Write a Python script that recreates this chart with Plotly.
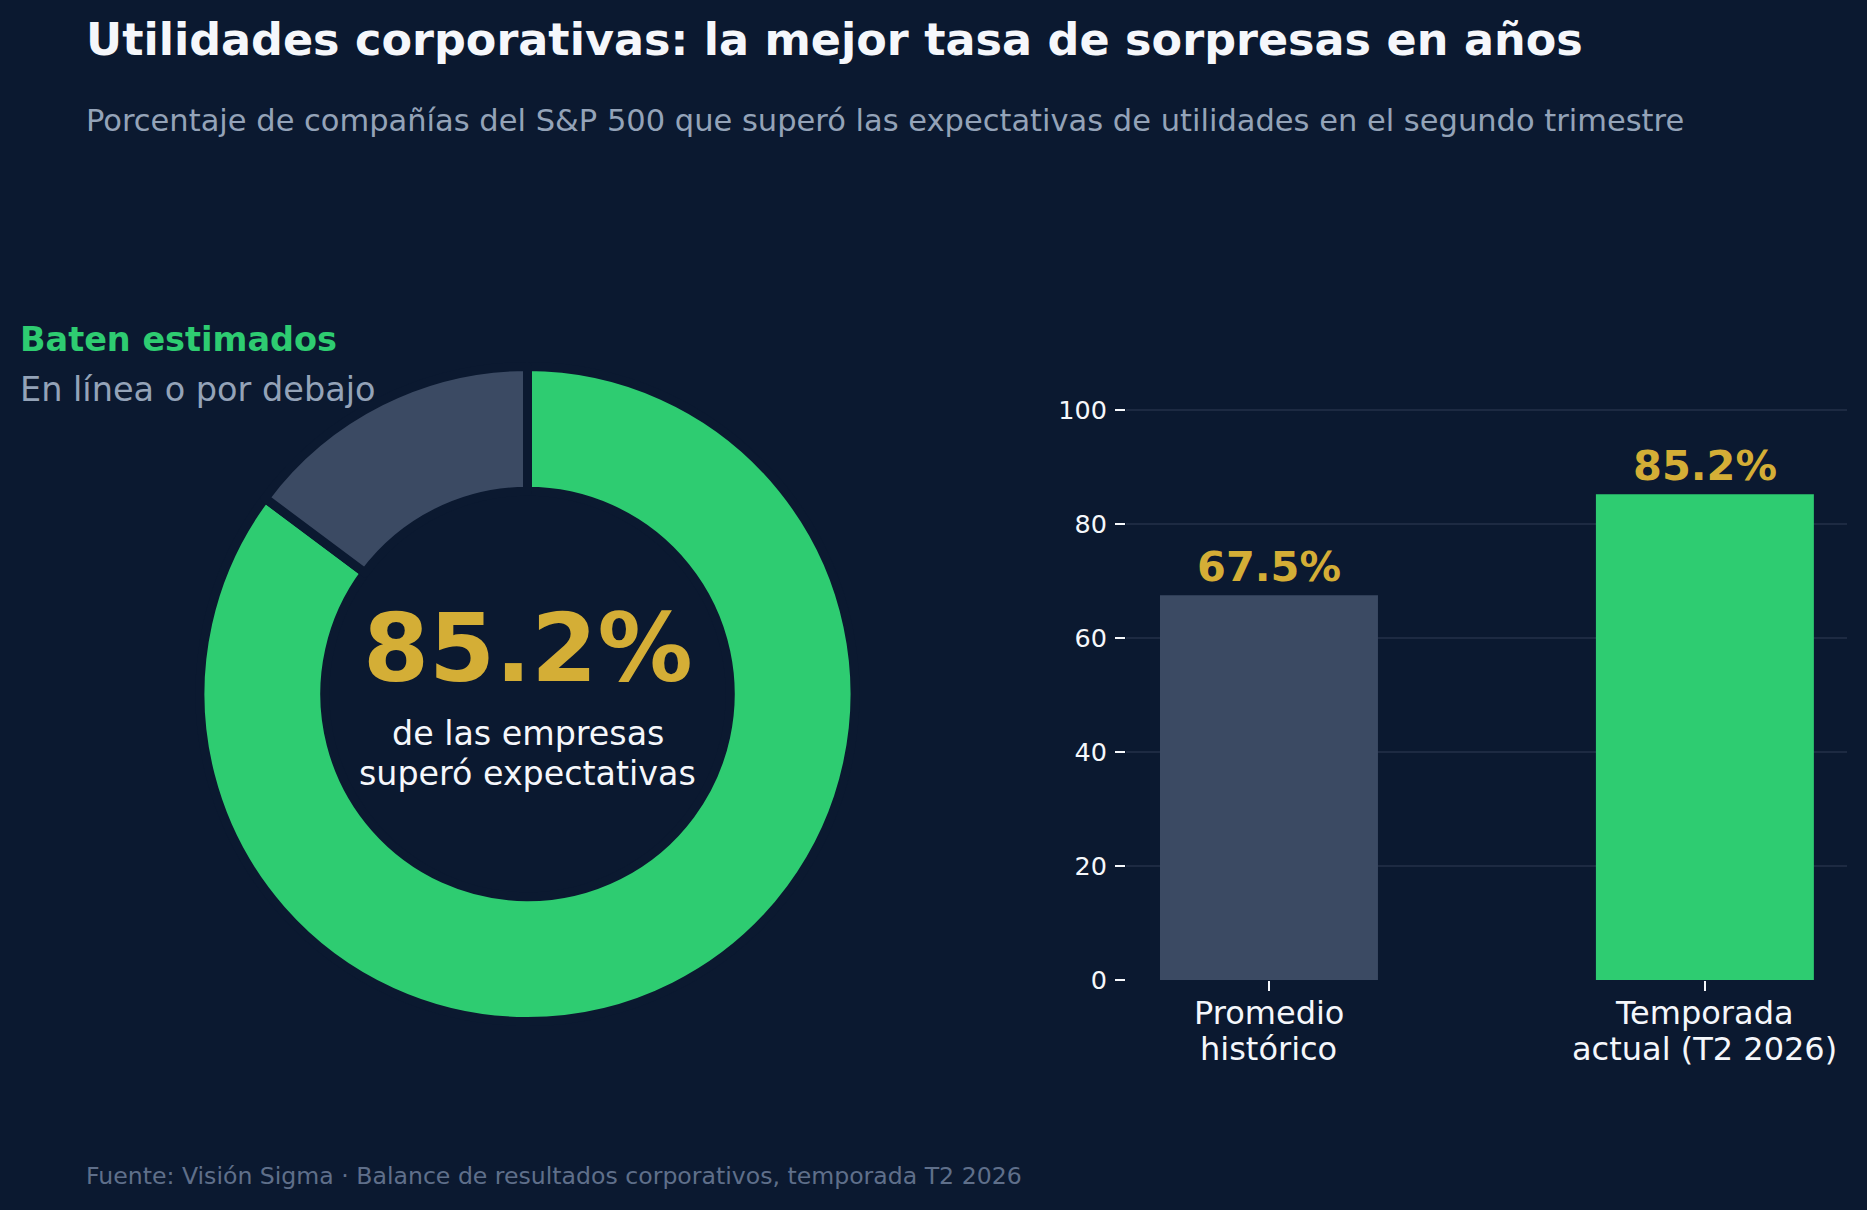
import plotly.graph_objects as go

# ---- data ----
donut_labels = ["Baten estimados", "En línea o por debajo"]
donut_values = [85.2, 14.8]
bar_categories = ["Promedio histórico", "Temporada actual (T2 2026)"]
bar_label_lines = [["Promedio", "histórico"], ["Temporada", "actual (T2 2026)"]]
bar_values = [67.5, 85.2]
y_ticks = [0, 20, 40, 60, 80, 100]

title_text = "Utilidades corporativas: la mejor tasa de sorpresas en años"
subtitle_text = "Porcentaje de compañías del S&P 500 que superó las expectativas de utilidades en el segundo trimestre"
source_text = "Fuente: Visión Sigma · Balance de resultados corporativos, temporada T2 2026"
center_big = "85.2%"
center_lines = ["de las empresas", "superó expectativas"]

# ---- style ----
W, H = 1867, 1210
BG = "#0b1930"
GREEN = "#2ecc71"
SLATE = "#3b4a63"
GOLD = "#d4ae36"
WHITE = "#f5f7fb"
MUTED = "#94a3b8"
DIM = "#5f6f8a"
GRID = "#1d2a42"
FONT = "DejaVu Sans"


def px_x(p):
    return p / W


def px_y(p):
    return 1 - p / H


fig = go.Figure()

# donut
cx, cy, r = 527.5, 694, 327.5
fig.add_trace(go.Pie(
    labels=donut_labels,
    values=donut_values,
    hole=0.619,
    sort=False,
    direction="clockwise",
    rotation=0,
    marker=dict(colors=[GREEN, SLATE], line=dict(color=BG, width=9)),
    textinfo="none",
    hoverinfo="label+value",
    showlegend=False,
    automargin=False,
    domain=dict(x=[px_x(cx - r), px_x(cx + r)], y=[px_y(cy + r), px_y(cy - r)]),
))

# bars
fig.add_trace(go.Bar(
    x=bar_categories,
    y=bar_values,
    width=0.5,
    marker=dict(color=[SLATE, GREEN], line=dict(width=0)),
    showlegend=False,
    hoverinfo="x+y",
))

annotations = []
for cat, val in zip(bar_categories, bar_values):
    annotations.append(dict(
        x=cat, y=val, xref="x", yref="y", text=f"<b>{val:.1f}%</b>",
        showarrow=False, yanchor="bottom", yshift=2,
        font=dict(family=FONT, size=41.5, color=GOLD),
    ))

# category labels (two lines each, under the ticks)
for cat, lines in zip(bar_categories, bar_label_lines):
    for line, ly in zip(lines, [1013, 1049]):
        annotations.append(dict(
            x=cat, y=px_y(ly), xref="x", yref="paper", xanchor="center", yanchor="middle",
            text=line, showarrow=False,
            font=dict(family=FONT, size=32, color=WHITE),
        ))

# titles
annotations += [
    dict(x=px_x(84), y=px_y(39), xref="paper", yref="paper", xanchor="left", yanchor="middle",
         text=f"<b>{title_text}</b>", showarrow=False,
         font=dict(family=FONT, size=44.5, color=WHITE)),
    dict(x=px_x(84), y=px_y(120), xref="paper", yref="paper", xanchor="left", yanchor="middle",
         text=subtitle_text, showarrow=False,
         font=dict(family=FONT, size=30.5, color=MUTED)),
    dict(x=px_x(84), y=px_y(1176), xref="paper", yref="paper", xanchor="left", yanchor="middle",
         text=source_text, showarrow=False,
         font=dict(family=FONT, size=23.6, color=DIM)),
]

# legend-like labels
legend_colors = [GREEN, MUTED]
legend_y = [340, 389]
for lab, col, ly, bold in zip(donut_labels, legend_colors, legend_y, [True, False]):
    annotations.append(dict(
        x=px_x(17.5), y=px_y(ly), xref="paper", yref="paper", xanchor="left", yanchor="middle",
        text=f"<b>{lab}</b>" if bold else lab, showarrow=False,
        font=dict(family=FONT, size=33.5, color=col),
    ))

# centre text
annotations.append(dict(
    x=px_x(cx), y=px_y(648), xref="paper", yref="paper", xanchor="center", yanchor="middle",
    text=f"<b>{center_big}</b>", showarrow=False,
    font=dict(family=FONT, size=95, color=GOLD),
))
for line, ly in zip(center_lines, [733, 773]):
    annotations.append(dict(
        x=px_x(cx), y=px_y(ly), xref="paper", yref="paper", xanchor="center", yanchor="middle",
        text=line, showarrow=False,
        font=dict(family=FONT, size=33.3, color=WHITE),
    ))

fig.update_layout(
    width=W, height=H,
    margin=dict(l=0, r=0, t=0, b=0, pad=0, autoexpand=False),
    paper_bgcolor=BG, plot_bgcolor=BG,
    font=dict(family=FONT, color=WHITE),
    annotations=annotations,
    showlegend=False,
    bargap=0.5,
    xaxis=dict(
        domain=[px_x(1126), px_x(1847)],
        range=[-0.328, 1.326],
        automargin=False,
        showgrid=False, zeroline=False, showline=False,
        ticks="outside", ticklen=10, tickwidth=2, tickcolor=WHITE,
        showticklabels=False,
        fixedrange=True,
    ),
    yaxis=dict(
        domain=[px_y(980), px_y(353)],
        range=[0, 110],
        automargin=False,
        tickvals=y_ticks,
        showgrid=True, gridcolor=GRID, gridwidth=2,
        zeroline=False, showline=False,
        ticks="outside", ticklen=10, tickwidth=2, tickcolor=WHITE,
        tickfont=dict(family=FONT, size=25.5, color=WHITE),
        ticklabelstandoff=3,
        fixedrange=True,
    ),
)

post = (
    "document.documentElement.style.margin='0';document.body.style.margin='0';"
    "document.documentElement.style.overflow='hidden';document.body.style.overflow='hidden';"
    "document.documentElement.style.background='" + BG + "';document.body.style.background='" + BG + "';"
    "var d=document.getElementById('{plot_id}');"
    "d.style.position='fixed';d.style.left='0px';d.style.top='0px';"
)

fig.write_html("out.html", config={"displayModeBar": False}, post_script=post)
